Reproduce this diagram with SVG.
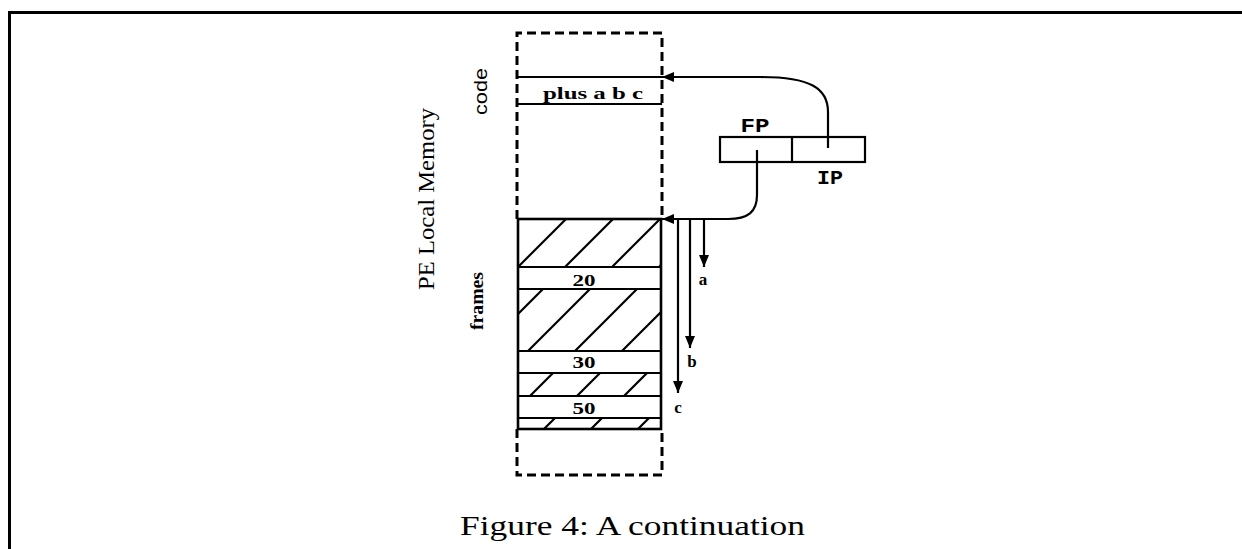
<svg xmlns="http://www.w3.org/2000/svg" width="1242" height="549" viewBox="0 0 1242 549">
<style>
.ln{stroke:#000;stroke-width:2.2;fill:none}
.dash{stroke:#000;stroke-width:3;fill:none;stroke-dasharray:9 5}
.box{stroke:#000;stroke-width:2.6;fill:none}
.serif{font-family:"Liberation Serif","DejaVu Serif",serif;fill:#000}
.sans{font-family:"Liberation Sans","DejaVu Sans",sans-serif;fill:#000}
.mono{font-family:"Liberation Mono","DejaVu Sans Mono",monospace;font-weight:bold;fill:#000}
</style>
<defs>
<pattern id="hatch" patternUnits="userSpaceOnUse" x="33" y="0" width="47" height="47">
<path d="M0,47 L47,0 M-2,2 L2,-2 M45,49 L49,45" stroke="#000" stroke-width="2.2"/>
</pattern>
<marker id="ah" viewBox="0 0 12 10" refX="12" refY="5" markerWidth="12" markerHeight="10" markerUnits="userSpaceOnUse" orient="auto">
<path d="M0,0 L12,5 L0,10 Z" fill="#000"/>
</marker>
</defs>
<rect width="1242" height="549" fill="#fff"/>
<g id="outer-frame">
<path d="M9.5,549 V12.5 H1242" stroke="#000" stroke-width="3" fill="none"/>
</g>
<g id="code-area">
<path class="dash" d="M517,219 V33 H662 V219"/>
<line class="ln" x1="517" y1="77" x2="662" y2="77"/>
<line class="ln" x1="517" y1="104" x2="662" y2="104"/>
<text class="serif" x="593" y="99" font-size="16" font-weight="bold" text-anchor="middle" textLength="100" lengthAdjust="spacingAndGlyphs">plus a b c</text>
<text class="sans" transform="translate(487,91.5) rotate(-90)" font-size="19" text-anchor="middle" textLength="47" lengthAdjust="spacingAndGlyphs">code</text>
</g>
<g id="frames-area">
<rect x="518" y="219" width="143" height="48" fill="url(#hatch)"/>
<rect x="518" y="289" width="143" height="62" fill="url(#hatch)"/>
<rect x="518" y="373" width="143" height="23" fill="url(#hatch)"/>
<rect x="518" y="418" width="143" height="11" fill="url(#hatch)"/>
<rect class="box" x="518" y="219" width="143" height="210"/>
<line class="ln" x1="518" y1="267" x2="661" y2="267"/>
<line class="ln" x1="518" y1="289" x2="661" y2="289"/>
<line class="ln" x1="518" y1="351" x2="661" y2="351"/>
<line class="ln" x1="518" y1="373" x2="661" y2="373"/>
<line class="ln" x1="518" y1="396" x2="661" y2="396"/>
<line class="ln" x1="518" y1="418" x2="661" y2="418"/>
<text class="serif" x="584" y="286" font-size="17" font-weight="bold" text-anchor="middle" textLength="23" lengthAdjust="spacingAndGlyphs">20</text>
<text class="serif" x="584" y="368" font-size="17" font-weight="bold" text-anchor="middle" textLength="23" lengthAdjust="spacingAndGlyphs">30</text>
<text class="serif" x="584" y="414" font-size="17" font-weight="bold" text-anchor="middle" textLength="23" lengthAdjust="spacingAndGlyphs">50</text>
<path class="dash" d="M517,429 V475 H662 V429"/>
<text class="serif" transform="translate(483,301) rotate(-90)" font-size="19" font-weight="bold" text-anchor="middle" textLength="58" lengthAdjust="spacingAndGlyphs">frames</text>
</g>
<g id="memory-label">
<text class="serif" transform="translate(434,199) rotate(-90)" font-size="23" text-anchor="middle" textLength="182" lengthAdjust="spacingAndGlyphs">PE Local Memory</text>
</g>
<g id="registers">
<rect class="ln" x="720" y="137" width="145" height="25"/>
<line class="ln" x1="792" y1="137" x2="792" y2="162"/>
<text class="mono" x="755" y="132" font-size="20" text-anchor="middle" textLength="29" lengthAdjust="spacingAndGlyphs">FP</text>
<text class="mono" x="830" y="184" font-size="21" text-anchor="middle" textLength="26" lengthAdjust="spacingAndGlyphs">IP</text>
</g>
<g id="connectors">
<path class="ln" marker-end="url(#ah)" d="M828,148 V112 C828,88 810,77 760,77 H662"/>
<path class="ln" marker-end="url(#ah)" d="M757,150 V195 C757,212 748,219 728,219 H662"/>
<path class="ln" marker-end="url(#ah)" d="M704,219 V267"/>
<path class="ln" marker-end="url(#ah)" d="M690,219 V348"/>
<path class="ln" marker-end="url(#ah)" d="M678,219 V393"/>
<text class="serif" x="703" y="285" font-size="17" font-weight="bold" text-anchor="middle">a</text>
<text class="serif" x="692" y="367" font-size="17" font-weight="bold" text-anchor="middle">b</text>
<text class="serif" x="678" y="413" font-size="17" font-weight="bold" text-anchor="middle">c</text>
</g>
<g id="caption">
<text class="serif" x="460" y="535" font-size="28" textLength="345" lengthAdjust="spacingAndGlyphs">Figure 4: A continuation</text>
</g>
</svg>
